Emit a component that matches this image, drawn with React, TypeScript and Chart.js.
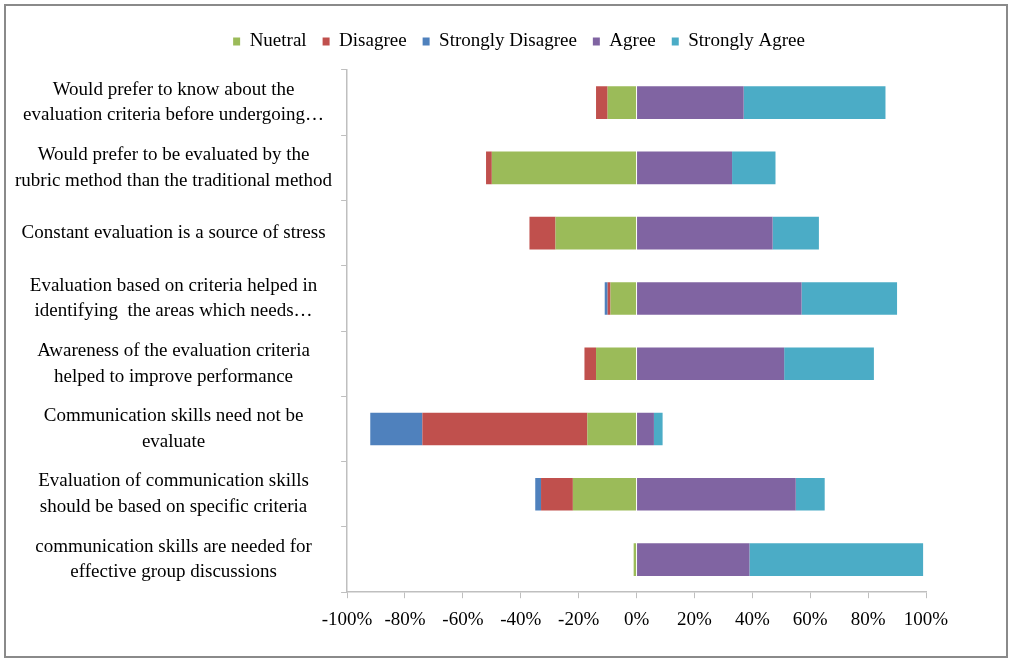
import React, { useEffect, useRef } from "react";
import { Chart, registerables } from "chart.js";

Chart.register(...registerables);

const categories: string[][] = [
  ["Would prefer to know about the", "evaluation criteria before undergoing…"],
  ["Would prefer to be evaluated by the", "rubric method than the traditional method"],
  ["Constant evaluation is a source of stress"],
  ["Evaluation based on criteria helped in", "identifying  the areas which needs…"],
  ["Awareness of the evaluation criteria", "helped to improve performance"],
  ["Communication skills need not be", "evaluate"],
  ["Evaluation of communication skills", "should be based on specific criteria"],
  ["communication skills are needed for", "effective group discussions"],
];

const neutral = [-10, -50, -28, -9, -14, -17, -22, -1];
const disagree = [-4, -2, -9, -1, -4, -57, -11, 0];
const stronglyDisagree = [0, 0, 0, -1, 0, -18, -2, 0];
const agree = [37, 33, 47, 57, 51, 6, 55, 39];
const stronglyAgree = [49, 15, 16, 33, 31, 3, 10, 60];

const xTicks = [-100, -80, -60, -40, -20, 0, 20, 40, 60, 80, 100];

const FONT = '"Liberation Serif", "Times New Roman", serif';

const legendShift = {
  id: "legendShift",
  afterLayout(chart: any) {
    const lg = chart.legend;
    if (!lg) return;
    lg.left += 53;
    lg.right += 53;
    lg.top -= 9;
    lg.bottom -= 9;
  },
};

export default function App() {
  const ref = useRef<HTMLCanvasElement>(null);
  useEffect(() => {
    if (!ref.current) return;
    const mk = (label: string, data: number[], color: string) => ({
      label,
      data,
      backgroundColor: color,
      borderWidth: 0,
      barPercentage: 0.5,
      categoryPercentage: 1,
    });
    const chart = new Chart(ref.current, {
      type: "bar",
      data: {
        labels: categories,
        datasets: [
          mk("Nuetral", neutral, "#9BBB59"),
          mk("Disagree", disagree, "#C0504D"),
          mk("Strongly Disagree", stronglyDisagree, "#4F81BD"),
          mk("Agree", agree, "#8064A2"),
          mk("Strongly Agree", stronglyAgree, "#4BACC6"),
        ],
      },
      plugins: [legendShift],
      options: {
        indexAxis: "y",
        animation: false,
        responsive: false,
        maintainAspectRatio: false,
        layout: { padding: { top: 19, right: 80, bottom: 15, left: 0 } },
        plugins: {
          tooltip: { enabled: false },
          legend: {
            position: "top",
            labels: {
              boxWidth: 7,
              boxHeight: 8,
              padding: 16,
              color: "#000",
              font: { family: FONT, size: 19 },
            },
          },
        },
        scales: {
          x: {
            stacked: true,
            min: -100,
            max: 100,
            afterBuildTicks: (s: any) => {
              s.ticks = xTicks.map((v) => ({ value: v }));
            },
            ticks: {
              color: "#000",
              font: { family: FONT, size: 19 },
              callback: (v: any) => `${v}%`,
              maxRotation: 0,
              padding: 10,
            },
            grid: { drawOnChartArea: false, tickLength: 6, color: "#BFBFBF" },
            border: { color: "#BFBFBF", width: 1.5 },
          },
          y: {
            stacked: true,
            ticks: {
              color: "#000",
              font: { family: FONT, size: 19, lineHeight: 1.35 },
              crossAlign: "center",
              padding: 9,
            },
            grid: { drawOnChartArea: false, tickLength: 6, color: "#BFBFBF", offset: true },
            border: { color: "#BFBFBF", width: 1.5 },
          },
        },
      },
    });
    return () => chart.destroy();
  }, []);
  return (
    <div
      style={{
        position: "fixed",
        left: 4,
        top: 4,
        width: 1004,
        height: 654,
        border: "2px solid #8a8a8a",
        boxSizing: "border-box",
        background: "#fff",
      }}
    >
      <canvas ref={ref} width={1000} height={650} style={{ display: "block" }} />
    </div>
  );
}
